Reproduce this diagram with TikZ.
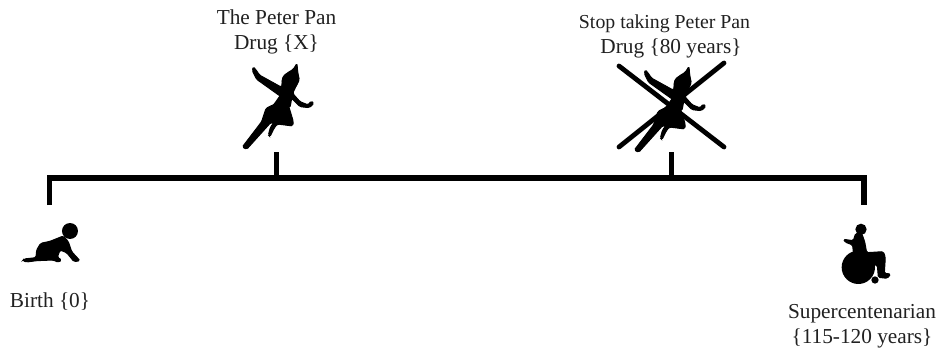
\documentclass[tikz,border=0pt]{standalone}
\usepackage{fontspec}
\setmainfont{Liberation Serif}
\definecolor{ink}{gray}{0.13}
\tikzset{
  rail/.style={draw=black,line width=5.2pt,line cap=butt},
  crossbar/.style={draw=black,line width=4.8pt,line cap=round},
  caption/.style={text=ink,font=\fontsize{21.3}{25}\selectfont,align=center,inner sep=0pt},
  figure/.style={fill=black,draw=black,line width=1pt,rounded corners=1.5pt}
}
\newcommand{\peterpan}{%
  (127,441) -- (185,365) -- (198,325) -- (225,312) -- (243,290) -- (170,238) -- (157,212) -- (160,200) -- (172,215) -- (178,225) -- (245,262) -- (247,240) -- (260,220) -- (280,208) -- (291,190) -- (293,215) -- (298,240) -- (285,265) -- (278,280) -- (300,305) -- (325,315) -- (333,303) -- (342,310) -- (328,323) -- (300,320) -- (275,295) -- (265,315) -- (280,365) -- (278,378) -- (255,375) -- (232,372) -- (222,385) -- (210,410) -- (205,405) -- (212,380) -- (222,368) -- (212,368) -- (140,448) -- cycle}
\begin{document}
\begin{tikzpicture}[x=1pt,y=-1pt]
\useasboundingbox (0,0) rectangle (939,354);
% timeline
\coordinate (birthEnd) at (49.5,205);
\coordinate (superEnd) at (864,205);
\coordinate (birthCorner) at (49.5,178);
\coordinate (superCorner) at (864,178);
\coordinate (panTop) at (276.5,152);
\coordinate (panBase) at (276.5,178);
\coordinate (stopTop) at (671.5,152);
\coordinate (stopBase) at (671.5,178);
\draw[rail,line join=miter] (birthEnd) -- (birthCorner) -- (superCorner) -- (superEnd);
\draw[rail] (panTop) -- (panBase);
\draw[rail] (stopTop) -- (stopBase);
% labels
\node[caption] (panLabel) at (276.5,32) {The Peter Pan\\Drug \{X\}};
\node[caption] (stopLabel) at (664.5,36) {{\fontsize{19.8}{25}\selectfont Stop taking Peter Pan}\\\hspace*{13pt}Drug \{80 years\}};
\node[caption] (birthLabel) at (50,302) {Birth \{0\}};
\node[caption] (superLabel) at (862,326) {Supercentenarian\\\{115-120 years\}};
% Peter Pan
\begin{scope}[shift={(200,0)},x=0.3333pt,y=-0.3333pt]
  \path[figure] \peterpan;
  \fill (270,242) circle[radius=25];
  \fill (240,285) -- (282,268) -- (272,320) -- (205,335) -- cycle;
\end{scope}
\begin{scope}[shift={(592,3)},x=0.3333pt,y=-0.3333pt]
  \path[figure] \peterpan;
  \fill (270,242) circle[radius=25];
  \fill (240,285) -- (282,268) -- (272,320) -- (205,335) -- cycle;
\end{scope}
% cross
\coordinate (crossA) at (619,66);
\coordinate (crossB) at (724,147);
\coordinate (crossC) at (724,63);
\coordinate (crossD) at (619,147);
\draw[crossbar] (crossA) -- (crossB);
\draw[crossbar] (crossC) -- (crossD);
% baby
\begin{scope}[shift={(0,170)},x=0.3333pt,y=-0.3333pt]
  \fill (210,183) circle[radius=24];
  \path[figure] (68,272) -- (72,267) -- (108,263) -- (110,240) -- (122,220) -- (150,214) -- (190,198) -- (205,215) -- (215,245) -- (240,272) -- (222,275) -- (200,248) -- (180,240) -- (172,262) -- (185,270) -- (175,277) -- (160,270) -- (110,272) -- (80,276) -- cycle;
\end{scope}
% wheelchair
\begin{scope}[shift={(790,170)},x=0.3333pt,y=-0.3333pt]
  \fill (213,178) circle[radius=17];
  \fill (205,292) circle[radius=50];
  \fill (255,330) circle[radius=11];
  \path[figure] (160,208) -- (190,212) -- (197,190) -- (215,190) -- (224,215) -- (230,248) -- (280,245) -- (286,262) -- (283,310) -- (302,312) -- (292,325) -- (265,322) -- (262,285) -- (250,285) -- (250,300) -- (195,300) -- (188,225) -- (165,216) -- cycle;
\end{scope}
\end{tikzpicture}
\end{document}
